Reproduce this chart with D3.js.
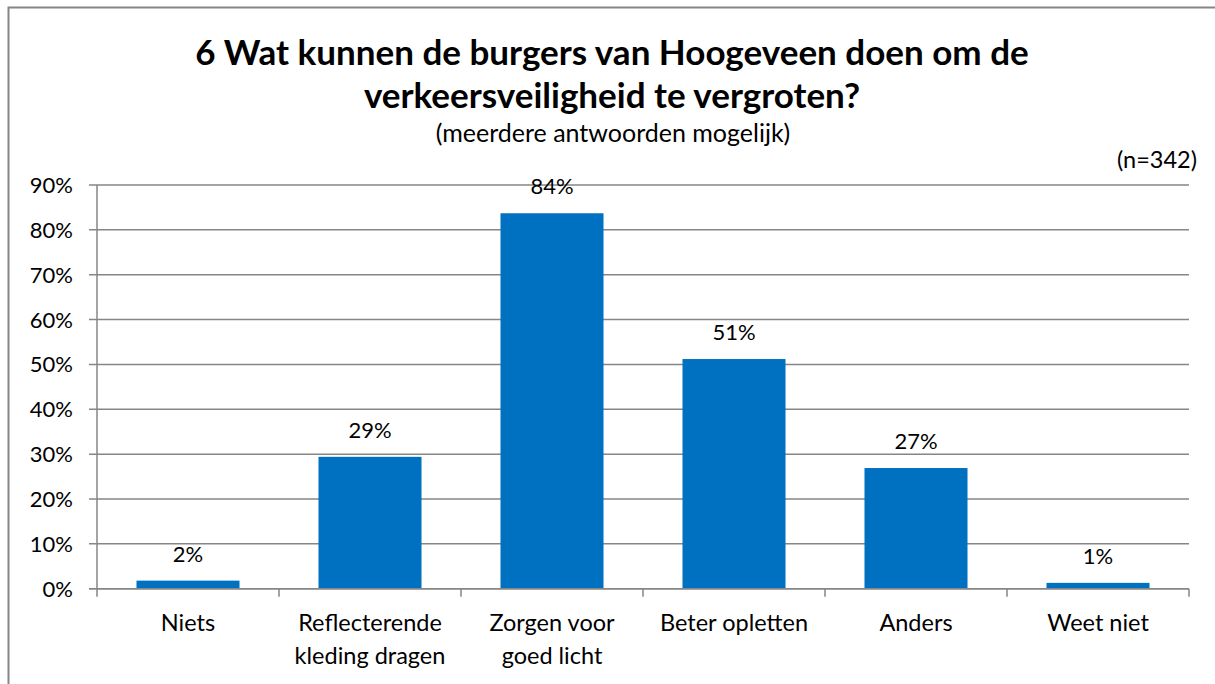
<!DOCTYPE html>
<html>
<head>
<meta charset="utf-8">
<script src="https://cdn.jsdelivr.net/npm/d3@7"></script>
<style>
    body { margin: 0; background: #fff; }
    svg { display: block; font-family: Lato, "Liberation Sans", sans-serif; }
</style>
</head>
<body>
<script>
window.onload = main;

// data
const categories = [["Niets"], ["Reflecterende", "kleding dragen"], ["Zorgen voor", "goed licht"],
                    ["Beter opletten"], ["Anders"], ["Weet niet"]];
const values = [1.8, 29.4, 83.7, 51.2, 26.9, 1.3];
const valueLabels = ["2%", "29%", "84%", "51%", "27%", "1%"];
const yTicks = [0, 10, 20, 30, 40, 50, 60, 70, 80, 90];
const titleLines = ["6 Wat kunnen de burgers van Hoogeveen doen om de", "verkeersveiligheid te vergroten?"];
const subtitle = "(meerdere antwoorden mogelijk)";
const nLabel = "(n=342)";

const svgWidth = 1215;
const svgHeight = 684;
const plot = {left: 97, right: 1189, top: 185, bottom: 588.7};
const gridColor = "#868686";
const barColor = "#0070C0";

function main() {
    const svg = d3.select("body")
        .append("svg")
        .attr("width", svgWidth)
        .attr("height", svgHeight);

    // outer chart border (runs off the right / bottom edge)
    svg.append("rect")
        .attr("x", 8.5).attr("y", 7.5)
        .attr("width", 1220).attr("height", 700)
        .attr("fill", "none")
        .attr("stroke", gridColor)
        .attr("stroke-width", 2);

    const x = d3.scaleBand()
        .domain(d3.range(categories.length))
        .range([plot.left, plot.right])
        .paddingInner(0.434)
        .paddingOuter(0.217);

    const y = d3.scaleLinear()
        .domain([0, 90])
        .range([plot.bottom, plot.top]);

    // gridlines
    svg.append("g")
        .selectAll("line")
        .data(yTicks)
        .join("line")
        .attr("x1", plot.left - 8)
        .attr("x2", plot.right)
        .attr("y1", d => y(d))
        .attr("y2", d => y(d))
        .attr("stroke", gridColor)
        .attr("stroke-width", 1.5);

    // y axis labels
    svg.append("g")
        .selectAll("text")
        .data(yTicks)
        .join("text")
        .text(d => d + "%")
        .attr("x", 73)
        .attr("y", d => y(d) + 8)
        .attr("text-anchor", "end")
        .style("font-size", "22px")
        .attr("fill", "#000");

    // y axis line
    svg.append("line")
        .attr("x1", plot.left).attr("x2", plot.left)
        .attr("y1", plot.top).attr("y2", plot.bottom)
        .attr("stroke", gridColor)
        .attr("stroke-width", 1.5);

    // x axis ticks at category boundaries
    const step = x.step();
    svg.append("g")
        .selectAll("line")
        .data(d3.range(categories.length + 1))
        .join("line")
        .attr("x1", i => plot.left + i * step)
        .attr("x2", i => plot.left + i * step)
        .attr("y1", plot.bottom)
        .attr("y2", plot.bottom + 8)
        .attr("stroke", gridColor)
        .attr("stroke-width", 1.5);

    // bars
    svg.append("g")
        .selectAll("rect")
        .data(values)
        .join("rect")
        .attr("x", (d, i) => x(i))
        .attr("width", x.bandwidth())
        .attr("y", d => y(d))
        .attr("height", d => y(0) - y(d))
        .attr("fill", barColor);

    // x axis line over the bars' bottom
    svg.append("line")
        .attr("x1", plot.left - 8).attr("x2", plot.right)
        .attr("y1", plot.bottom).attr("y2", plot.bottom)
        .attr("stroke", gridColor)
        .attr("stroke-width", 1.5);

    // value labels
    svg.append("g")
        .selectAll("text")
        .data(values)
        .join("text")
        .text((d, i) => valueLabels[i])
        .attr("x", (d, i) => x(i) + x.bandwidth() / 2)
        .attr("y", d => y(d) - 19)
        .attr("text-anchor", "middle")
        .style("font-size", "22px");

    // category labels
    const catG = svg.append("g")
        .selectAll("text")
        .data(categories)
        .join("text")
        .attr("text-anchor", "middle")
        .style("font-size", "23.5px");
    catG.selectAll("tspan")
        .data((d, i) => d.map(line => ({line, i})))
        .join("tspan")
        .text(d => d.line)
        .attr("x", d => x(d.i) + x.bandwidth() / 2)
        .attr("y", (d, j) => 631 + j * 33);

    // title
    svg.append("g")
        .selectAll("text")
        .data(titleLines)
        .join("text")
        .text(d => d)
        .attr("x", 612)
        .attr("y", (d, i) => 65 + i * 43)
        .attr("text-anchor", "middle")
        .style("font-size", "35px")
        .style("font-weight", "bold");

    svg.append("text")
        .text(subtitle)
        .attr("x", 613)
        .attr("y", 142)
        .attr("text-anchor", "middle")
        .style("font-size", "25px");

    svg.append("text")
        .text(nLabel)
        .attr("x", 1197)
        .attr("y", 168)
        .attr("text-anchor", "end")
        .style("font-size", "23.5px");
}
</script>
</body>
</html>
